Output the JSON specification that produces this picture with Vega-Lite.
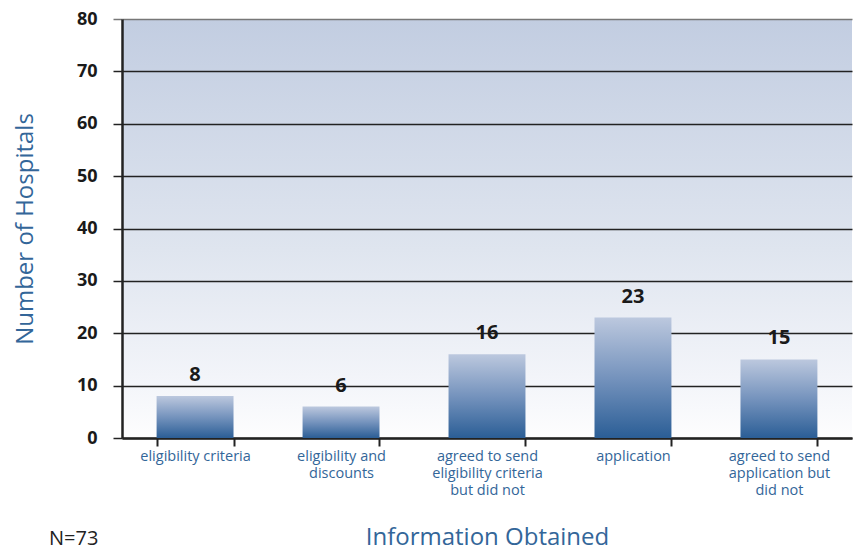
{
  "$schema": "https://vega.github.io/schema/vega-lite/v6.json",
  "width": 730,
  "height": 419,
  "autosize": {"type": "none"},
  "padding": {"left": 122, "top": 19, "right": 8, "bottom": 112},
  "background": "#ffffff",
  "view": {
    "stroke": null,
    "fill": {"gradient": "linear", "x1": 0, "y1": 0, "x2": 0, "y2": 1,
      "stops": [{"offset": 0, "color": "#c2cde1"}, {"offset": 0.55, "color": "#dfe5ef"}, {"offset": 0.85, "color": "#f2f4f9"}, {"offset": 1, "color": "#fdfdfe"}]}
  },
  "title": {
    "text": "N=73",
    "orient": "bottom",
    "anchor": "start",
    "frame": "group",
    "dx": -73,
    "offset": -20,
    "font": "Open Sans",
    "fontSize": 20,
    "fontWeight": "normal",
    "color": "#222222"
  },
  "data": {
    "values": [
      {"info": "eligibility criteria", "hospitals": 8},
      {"info": "eligibility and discounts", "hospitals": 6},
      {"info": "agreed to send eligibility criteria but did not", "hospitals": 16},
      {"info": "application", "hospitals": 23},
      {"info": "agreed to send application but did not", "hospitals": 15}
    ]
  },
  "encoding": {
    "x": {
      "field": "info",
      "type": "nominal",
      "sort": null,
      "scale": {"paddingInner": 0.473, "paddingOuter": 0.237},
      "axis": {
        "title": "Information Obtained",
        "titleFont": "Open Sans",
        "titleFontSize": 24,
        "titleFontWeight": "normal",
        "titleColor": "#336699",
        "titleY": 99,
        "titleBaseline": "middle",
        "labelAngle": 0,
        "labelFont": "Open Sans",
        "labelFontSize": 14.5,
        "labelColor": "#336699",
        "labelLineHeight": 17,
        "labelPadding": 3,
        "labelBaseline": "top",
        "labelExpr": "datum.label == 'eligibility and discounts' ? ['eligibility and', 'discounts'] : datum.label == 'agreed to send eligibility criteria but did not' ? ['agreed to send', 'eligibility criteria', 'but did not'] : datum.label == 'agreed to send application but did not' ? ['agreed to send', 'application but', 'did not'] : datum.label",
        "tickBand": "extent",
        "tickSize": 8,
        "tickWidth": 2,
        "tickColor": "#222222",
        "domainColor": "#222222",
        "domainWidth": 2.5,
        "grid": false
      }
    },
    "y": {
      "field": "hospitals",
      "type": "quantitative",
      "scale": {"domain": [0, 80], "nice": false},
      "axis": {
        "title": "Number of Hospitals",
        "titleFont": "Open Sans",
        "titleFontSize": 24,
        "titleFontWeight": "normal",
        "titleColor": "#336699",
        "titleX": -97,
        "titleBaseline": "middle",
        "values": [0, 10, 20, 30, 40, 50, 60, 70, 80],
        "labelFont": "Open Sans",
        "labelFontSize": 18,
        "labelFontWeight": "bold",
        "labelColor": "#1a1a1a",
        "labelPadding": 16,
        "tickSize": 9,
        "tickWidth": 1.5,
        "tickColor": {"condition": {"test": "datum.value == 80", "value": "#777777"}, "value": "#222222"},
        "domainColor": "#222222",
        "domainWidth": 2.5,
        "grid": true,
        "gridWidth": 1.5,
        "gridColor": {"condition": {"test": "datum.value == 80", "value": "#777777"}, "value": "#222222"}
      }
    }
  },
  "layer": [
    {
      "mark": {
        "type": "bar",
        "fill": {"gradient": "linear", "x1": 0, "y1": 0, "x2": 0, "y2": 1,
          "stops": [{"offset": 0, "color": "#bcc8de"}, {"offset": 0.5, "color": "#7593bd"}, {"offset": 1, "color": "#2b5e96"}]}
      }
    },
    {
      "mark": {"type": "text", "baseline": "bottom", "dy": -11, "font": "Open Sans", "fontSize": 20, "fontWeight": "bold", "color": "#1a1a1a"},
      "encoding": {"text": {"field": "hospitals", "type": "quantitative"}}
    }
  ]
}
